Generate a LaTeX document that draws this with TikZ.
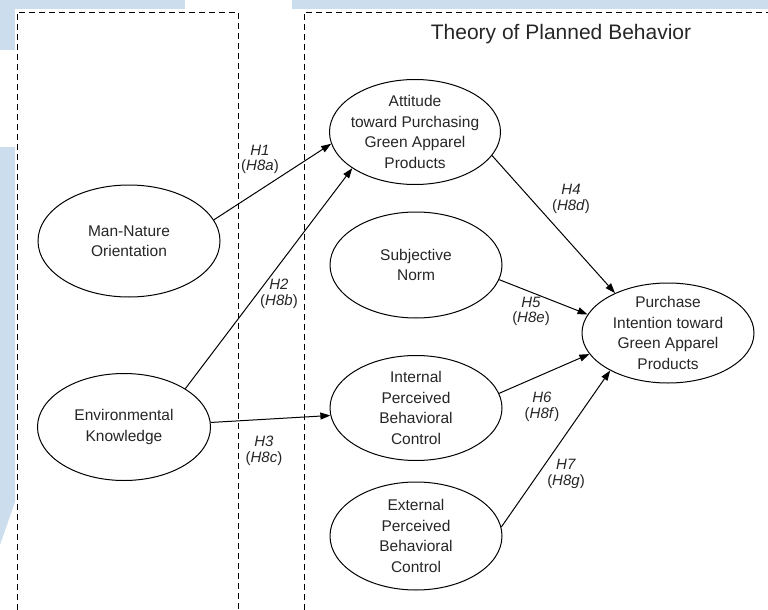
\documentclass[tikz,border=0pt]{standalone}
\usepackage{fontspec}
\setmainfont{Liberation Sans}
\usetikzlibrary{arrows.meta,shapes.geometric}
\definecolor{pageblue}{RGB}{204,222,238}

\begin{document}
\begin{tikzpicture}[x=1pt,y=-1pt,>={Triangle[length=10pt,width=7pt]},
        construct/.style={ellipse,draw,line width=1pt,minimum width=172pt,minimum height=106pt,
          inner xsep=-20pt,inner ysep=-10pt,align=center,text=black!85,
          font=\fontsize{15.5}{20.5}\selectfont},
        hyp/.style={align=center,text=black!85,font=\fontsize{15}{15.5}\selectfont},
        boundary/.style={dash pattern=on 6pt off 4pt,line width=0.8pt}]
        \useasboundingbox (0,0) rectangle (768,610);

        % page background
        \fill[pageblue] (0,0) rectangle (185,9);
        \fill[pageblue] (292,0) rectangle (768,9);
        \fill[pageblue] (0,0) rectangle (15,50);
        \fill[pageblue] (0,147) -- (15,147) -- (15,502) -- (0,545) -- cycle;

        % dashed regions
        \draw[boundary] (17,610) -- (17,12) -- (238,12) -- (238,610);
        \draw[boundary] (304,610) -- (304,12) -- (768,12);
        \node[text=black!85,font=\fontsize{21}{24}\selectfont] (tpb) at (561,34) {Theory of Planned Behavior};

        \node[construct,minimum width=182pt,minimum height=112pt] (mn) at (129,241) {Man-Nature\\Orientation};
        \node[construct,minimum width=173pt,minimum height=107pt] (ek) at (124,427) {Environmental\\Knowledge};
        \node[construct,minimum width=171pt,minimum height=105pt] (att) at (415,132) {Attitude\\toward Purchasing\\Green Apparel\\Products};
        \node[construct] (sn) at (416,265) {Subjective\\Norm};
        \node[construct,minimum height=105pt] (ipbc) at (416,408) {Internal\\Perceived\\Behavioral\\Control};
        \node[construct,minimum height=108pt] (epbc) at (416,536) {External\\Perceived\\Behavioral\\Control};
        \node[construct,minimum height=100pt] (pi) at (668,333) {Purchase\\Intention toward\\Green Apparel\\Products};

        \path[->,line width=1pt]
        (mn.14) edge (att.188)
        (ek.32) edge (att.210)
        (ek.3) edge (ipbc.185)
        (att.343) edge (pi.143)
        (sn.350) edge (pi.167)
        (ipbc.10) edge (pi.195)
        (epbc.6) edge (pi.213);

        \node[hyp] (h1) at (260,159.5) {\textit{H1}\\(\textit{H8a})};
        \node[hyp] (h2) at (279,294) {\textit{H2}\\(\textit{H8b})};
        \node[hyp] (h3) at (264,451) {\textit{H3}\\(\textit{H8c})};
        \node[hyp] (h4) at (571,199) {\textit{H4}\\(\textit{H8d})};
        \node[hyp] (h5) at (531,311.5) {\textit{H5}\\(\textit{H8e})};
        \node[hyp] (h6) at (542,407) {\textit{H6}\\(\textit{H8f})};
        \node[hyp] (h7) at (566,474) {\textit{H7}\\(\textit{H8g})};
      \end{tikzpicture}
\end{document}
